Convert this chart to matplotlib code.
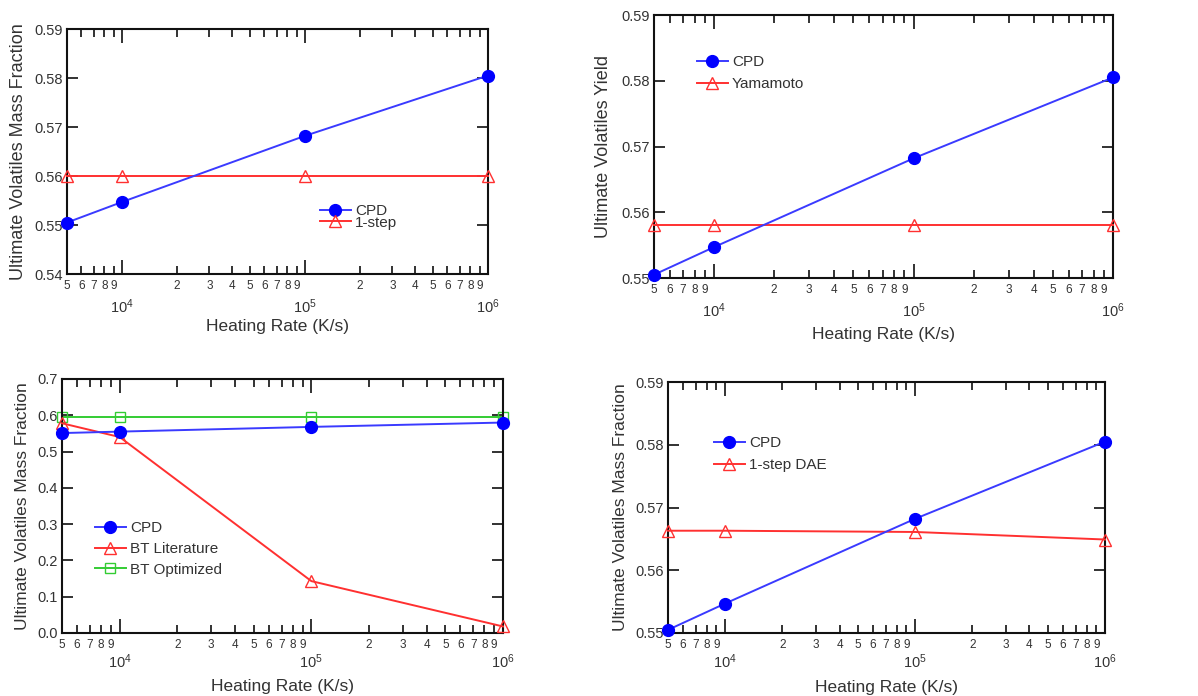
import matplotlib
matplotlib.use("Agg")
import matplotlib.pyplot as plt
from matplotlib.ticker import FixedLocator, FuncFormatter, LogLocator
import numpy as np

plt.rcParams['font.family'] = ['Liberation Sans', 'DejaVu Sans']
plt.rcParams['mathtext.fontset'] = 'custom'
plt.rcParams['mathtext.rm'] = 'Liberation Sans'
plt.rcParams['mathtext.it'] = 'Liberation Sans'
plt.rcParams['text.color'] = '#333333'

# ---- data ----
heating_rate = [5e3, 1e4, 1e5, 1e6]

cpd = [0.5505, 0.5547, 0.5682, 0.5805]
one_step = [0.560, 0.560, 0.560, 0.560]
yamamoto = [0.558, 0.558, 0.558, 0.558]
cpd_bl = [0.551, 0.555, 0.568, 0.580]
bt_literature = [0.578, 0.540, 0.143, 0.018]
bt_optimized = [0.595, 0.595, 0.595, 0.595]
one_step_dae = [0.5663, 0.5663, 0.5661, 0.5649]

xlabel = "Heating Rate (K/s)"
ylabel_mass = "Ultimate Volatiles Mass Fraction"
ylabel_yield = "Ultimate Volatiles Yield"

W, H = 1198, 696
fig = plt.figure(figsize=(W / 100, H / 100), dpi=100)

BLUE = '#0000ff'
BLUE_L = '#3a3aff'
RED = '#ff3030'
GREEN = '#33cc33'
TXT = '#333333'


def add_ax(left, right, top, bottom):
    return fig.add_axes([left / W, 1 - bottom / H, (right - left) / W, (bottom - top) / H])


def style(ax, ylim, yticks, yfmt, xlab_pad, major_pad):
    ax.set_xscale('log')
    ax.set_xlim(5e3, 1e6)
    ax.set_ylim(*ylim)
    ax.xaxis.set_major_locator(FixedLocator([1e4, 1e5, 1e6]))
    ax.xaxis.set_major_formatter(FuncFormatter(lambda v, p: r'$10^{%d}$' % int(round(np.log10(v)))))
    ax.xaxis.set_minor_locator(LogLocator(base=10, subs=np.arange(2, 10), numticks=20))
    ax.xaxis.set_minor_formatter(FuncFormatter(
        lambda v, p: '%d' % int(round(v / 10 ** np.floor(np.log10(v) + 1e-9)))))
    ax.set_yticks(yticks)
    ax.yaxis.set_major_formatter(FuncFormatter(lambda v, p: yfmt % v))
    ax.tick_params(axis='both', which='both', direction='in', top=True, right=True,
                   colors='#222222', labelcolor=TXT, width=1.3)
    ax.tick_params(axis='x', which='major', length=10, pad=major_pad, labelsize=10.5)
    ax.tick_params(axis='x', which='minor', length=6, pad=4, labelsize=8.5)
    ax.tick_params(axis='y', which='major', length=8, pad=3, labelsize=10.5)
    for s in ax.spines.values():
        s.set_linewidth(1.5)
        s.set_color('#111111')
    ax.set_xlabel(xlabel, fontsize=12.5, labelpad=xlab_pad, color=TXT)


def cpd_line(ax, y, label='CPD'):
    ax.plot(heating_rate, y, color=BLUE_L, lw=1.4, marker='o', ms=8.5,
            mfc=BLUE, mec=BLUE, label=label, clip_on=False, zorder=4)


def tri_line(ax, y, label):
    ax.plot(heating_rate, y, color=RED, lw=1.4, marker='^', ms=8,
            mfc='none', mec=RED, mew=1.0, label=label, clip_on=False, zorder=3)


def legend_at(ax, x, y, spacing, fs=11):
    ax.legend(loc='upper left', bbox_to_anchor=(x / W, 1 - y / H),
              bbox_transform=fig.transFigure, frameon=False, fontsize=fs,
              borderpad=0, borderaxespad=0, handlelength=2.0, handletextpad=0.3,
              labelspacing=spacing, labelcolor=TXT)


# top-left
ax1 = add_ax(67, 488, 29, 274)
cpd_line(ax1, cpd)
tri_line(ax1, one_step, '1-step')
style(ax1, (0.54, 0.59), np.arange(0.54, 0.5901, 0.01), '%.2f', 2, 17)
ax1.set_ylabel(ylabel_mass, fontsize=13, labelpad=5, color=TXT)
legend_at(ax1, 320, 204, -0.15)

# top-right
ax2 = add_ax(654, 1113, 15, 278)
cpd_line(ax2, cpd)
tri_line(ax2, yamamoto, 'Yamamoto')
style(ax2, (0.55, 0.59), np.arange(0.55, 0.5901, 0.01), '%.2f', 5, 17)
ax2.set_ylabel(ylabel_yield, fontsize=13, labelpad=7, color=TXT)
legend_at(ax2, 697, 55, 0.55)

# bottom-left
ax3 = add_ax(62, 503, 379, 633)
cpd_line(ax3, cpd_bl)
tri_line(ax3, bt_literature, 'BT Literature')
ax3.plot(heating_rate, bt_optimized, color=GREEN, lw=1.4, marker='s', ms=7.5,
         mfc='none', mec=GREEN, mew=1.0, label='BT Optimized', clip_on=False, zorder=2)
style(ax3, (0.0, 0.7), np.arange(0.0, 0.701, 0.1), '%.1f', 5.5, 14)
ax3.set_ylabel(ylabel_mass, fontsize=12.5, labelpad=5, color=TXT)
legend_at(ax3, 95, 521, 0.45)

# bottom-right
ax4 = add_ax(668, 1105, 382, 633)
cpd_line(ax4, cpd)
tri_line(ax4, one_step_dae, '1-step DAE')
style(ax4, (0.55, 0.59), np.arange(0.55, 0.5901, 0.01), '%.2f', 6.5, 14)
ax4.set_ylabel(ylabel_mass, fontsize=12.5, labelpad=5, color=TXT)
legend_at(ax4, 714, 436, 0.55)

fig.savefig('out.png', dpi=100)
